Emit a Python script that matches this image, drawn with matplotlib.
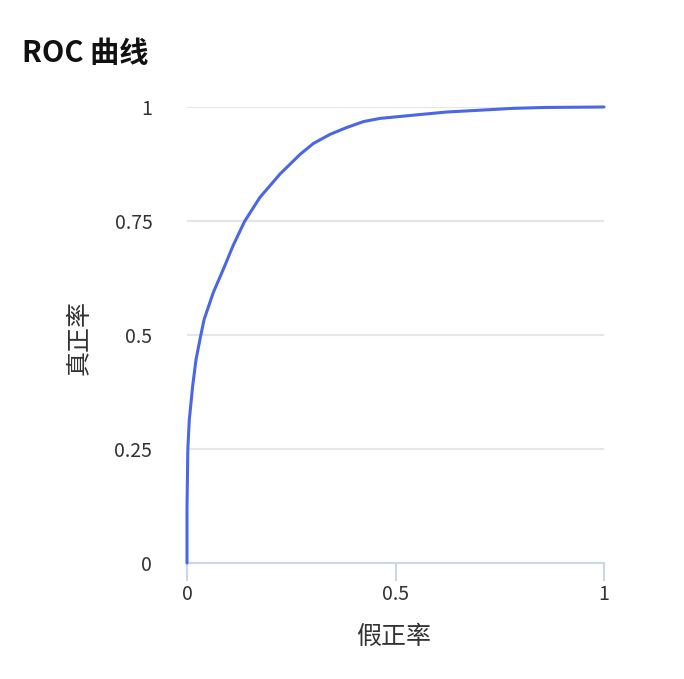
import matplotlib
matplotlib.use("Agg")
import matplotlib.pyplot as plt

plt.rcParams['font.family'] = ['Noto Sans CJK SC', 'DejaVu Sans']

title = "ROC 曲线"
x_label = "假正率"
y_label = "真正率"

fpr = [0.0, 0.0, 0.002, 0.0055, 0.0136, 0.0216, 0.033, 0.041, 0.063, 0.087, 0.111,
       0.138, 0.175, 0.223, 0.271, 0.303, 0.343, 0.383, 0.423, 0.463,
       0.542, 0.623, 0.703, 0.78, 0.86, 1.0]
tpr = [0.0, 0.12, 0.25, 0.314, 0.388, 0.446, 0.499, 0.534, 0.593, 0.644, 0.697,
       0.749, 0.802, 0.853, 0.896, 0.92, 0.94, 0.955, 0.968, 0.975,
       0.982, 0.989, 0.993, 0.997, 0.999, 1.0]

x_ticks = [0, 0.5, 1]
x_tick_labels = ["0", "0.5", "1"]
y_ticks = [0, 0.25, 0.5, 0.75, 1]
y_tick_labels = ["0", "0.25", "0.5", "0.75", "1"]

W, H = 684, 679
fig = plt.figure(figsize=(W / 100, H / 100), dpi=100)
left, right, top, bottom = 187, 604, 107, 563
ax = fig.add_axes([left / W, 1 - bottom / H, (right - left) / W, (bottom - top) / H])

ax.plot(fpr, tpr, color='#4a67e6', lw=2.2, solid_joinstyle='round',
        solid_capstyle='round', zorder=3, clip_on=False)
ax.set_xlim(0, 1)
ax.set_ylim(0, 1)

for s in ['top', 'right', 'left']:
    ax.spines[s].set_visible(False)
ax.spines['bottom'].set_color('#ccd6eb')
ax.spines['bottom'].set_linewidth(1.5)

ax.set_yticks(y_ticks)
ax.set_yticklabels(y_tick_labels)
ax.set_xticks(x_ticks)
ax.set_xticklabels(x_tick_labels)
ax.tick_params(axis='y', length=0, pad=25, labelsize=14, labelcolor='#333333')
ax.tick_params(axis='x', length=13, width=1.5, color='#ccd6eb', pad=2,
               labelsize=14, labelcolor='#333333')
ax.yaxis.grid(True, color='#e6e6e6', lw=1.5)
ax.set_axisbelow(True)

ax.set_xlabel(x_label, fontsize=18, color='#333333')
ax.set_ylabel(y_label, fontsize=18, color='#333333')
ax.xaxis.set_label_coords((393.5 - left) / (right - left), (bottom - 624) / (bottom - top))
ax.yaxis.set_label_coords((93 - left) / (right - left), (bottom - 337) / (bottom - top))

fig.text(22 / W, 1 - 62 / H, title, fontsize=21, fontweight='bold', color='#111111',
         ha='left', va='baseline')

fig.savefig('out.png', dpi=100)
